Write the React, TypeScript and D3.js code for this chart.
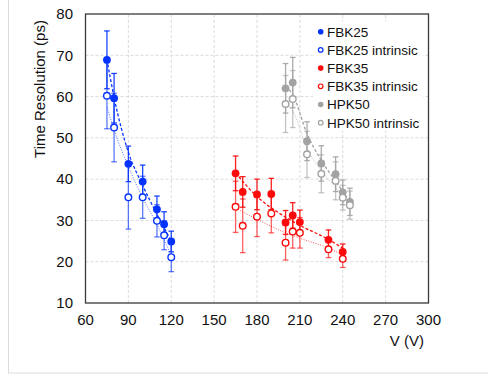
import React from "react";
import * as d3 from "d3";

// ---- data ----
const fbk25V = [75, 80, 90, 100, 110, 115, 120];
const fbk25 = [68.9, 59.6, 43.7, 39.4, 32.7, 29.1, 24.9];
const fbk25Err = [7.0, 6.0, 4.3, 4.0, 3.2, 3.0, 2.5];
const fbk25Intr = [60.2, 52.5, 35.6, 35.6, 29.9, 26.4, 21.1];
const fbk25IntrErr = [8.0, 8.3, 7.7, 5.1, 3.9, 3.5, 3.5];

const fbk35V = [165, 170, 180, 190, 200, 205, 210, 230, 240];
const fbk35 = [41.4, 36.9, 36.3, 36.4, 29.5, 31.2, 29.6, 25.3, 22.4];
const fbk35Err = [4.2, 3.7, 3.7, 3.8, 2.9, 3.1, 2.9, 2.4, 1.9];
const fbk35Intr = [33.3, 28.7, 30.9, 31.7, 24.6, 27.3, 27.0, 23.0, 20.7];
const fbk35IntrErr = [6.2, 6.5, 4.8, 4.7, 4.2, 4.0, 3.7, 2.0, 2.1];

const hpk50V = [200, 205, 215, 225, 235, 240, 245];
const hpk50 = [62.0, 63.4, 49.2, 43.8, 41.2, 36.8, 34.5];
const hpk50Err = [6.0, 6.1, 4.7, 4.3, 4.2, 3.0, 3.3];
const hpk50Intr = [58.2, 59.4, 46.0, 41.3, 39.6, 35.5, 33.7];
const hpk50IntrErr = [6.9, 6.9, 5.6, 4.6, 4.6, 3.0, 3.4];

// trend lines (as drawn in the picture)
const fbk25TrendV = [75, 80, 90, 100, 110, 120];
const fbk25Trend = [69, 59.8, 46.5, 38.5, 31.5, 25];
const fbk25IntrTrend = [57.5, 52, 43, 35.5, 29, 21.5];
const fbk35TrendV = [165, 180, 200, 210, 230, 240];
const fbk35Trend = [41.5, 35.8, 30.8, 28.8, 25.4, 23.3];
const fbk35IntrTrend = [33, 30.3, 27, 25.7, 23.3, 21.6];
const hpk50TrendV = [200, 205, 215, 225, 235, 245];
const hpk50Trend = [62.5, 60.5, 51, 44.5, 39.5, 34.5];
const hpk50IntrTrend = [58.5, 56.5, 47.5, 42, 38, 33.8];

const xTicks = [60, 90, 120, 150, 180, 210, 240, 270, 300];
const yTicks = [10, 20, 30, 40, 50, 60, 70, 80];

const legendLabels = ["FBK25", "FBK25 intrinsic", "FBK35", "FBK35 intrinsic", "HPK50", "HPK50 intrinsic"];

const BLUE = "#0433ff";
const RED = "#fa0a0a";
const GRAY = "#a3a3a3";

const FONT = "'Liberation Sans', Arial, Helvetica, sans-serif";

export default function App() {
  const W = 488, H = 377;
  const x = d3.scaleLinear().domain([60, 300]).range([85.5, 428.5]);
  const y = d3.scaleLinear().domain([10, 80]).range([303, 14]);

  const series = [
    { v: fbk25V, val: fbk25, err: fbk25Err, color: BLUE, open: false },
    { v: fbk25V, val: fbk25Intr, err: fbk25IntrErr, color: BLUE, open: true },
    { v: fbk35V, val: fbk35, err: fbk35Err, color: RED, open: false },
    { v: fbk35V, val: fbk35Intr, err: fbk35IntrErr, color: RED, open: true },
    { v: hpk50V, val: hpk50, err: hpk50Err, color: GRAY, open: false },
    { v: hpk50V, val: hpk50Intr, err: hpk50IntrErr, color: GRAY, open: true },
  ];
  const trends = [
    { v: fbk25TrendV, val: fbk25Trend, color: BLUE, open: false },
    { v: fbk25TrendV, val: fbk25IntrTrend, color: BLUE, open: true },
    { v: fbk35TrendV, val: fbk35Trend, color: RED, open: false },
    { v: fbk35TrendV, val: fbk35IntrTrend, color: RED, open: true },
    { v: hpk50TrendV, val: hpk50Trend, color: GRAY, open: false },
    { v: hpk50TrendV, val: hpk50IntrTrend, color: GRAY, open: true },
  ];
  const line = d3
    .line<[number, number]>()
    .x((d) => x(d[0]))
    .y((d) => y(d[1]))
    .curve(d3.curveMonotoneX);

  const legendColors = [BLUE, BLUE, RED, RED, GRAY, GRAY];

  return (
    <svg width={W} height={H} style={{ position: "absolute", left: 0, top: 0, fontFamily: FONT }}>
      <rect x={0} y={0} width={W} height={H} fill="#fff" />
      <rect x={8.5} y={-5} width={520} height={378} fill="#fff" stroke="#dcdcdc" strokeWidth={1} />
      {/* grid */}
      {xTicks.slice(1, -1).map((t) => (
        <line key={"gx" + t} x1={x(t)} x2={x(t)} y1={y(10)} y2={y(80)} stroke="#d2d2d2" strokeWidth={0.8} strokeDasharray="3,2" />
      ))}
      {yTicks.slice(1, -1).map((t) => (
        <line key={"gy" + t} x1={x(60)} x2={x(300)} y1={y(t)} y2={y(t)} stroke="#d2d2d2" strokeWidth={0.8} strokeDasharray="3,2" />
      ))}
      {/* legend background */}
      <rect x={313} y={21} width={110} height={110} fill="#fff" />
      {/* trend lines */}
      {trends.map((s, i) => (
        <path
          key={"t" + i}
          d={line(s.v.map((v, j) => [v, s.val[j]] as [number, number])) || ""}
          fill="none"
          stroke={s.color}
          strokeWidth={s.open ? 1 : 1.3}
          strokeOpacity={s.open ? 0.7 : 1}
          strokeDasharray={s.open ? "1,1.5" : "3,2"}
        />
      ))}
      {/* error bars */}
      {series.map((s, i) => (
        <g key={"e" + i} stroke={s.color} strokeWidth={1.3} strokeOpacity={s.open ? 0.65 : 0.9}>
          {s.v.map((v, j) => {
            const cx = x(v);
            const y1 = y(s.val[j] + s.err[j]);
            const y2 = y(s.val[j] - s.err[j]);
            return (
              <g key={j}>
                <line x1={cx} x2={cx} y1={y1} y2={y2} />
                <line x1={cx - 2.8} x2={cx + 2.8} y1={y1} y2={y1} />
                <line x1={cx - 2.8} x2={cx + 2.8} y1={y2} y2={y2} />
              </g>
            );
          })}
        </g>
      ))}
      {/* markers */}
      {series.map((s, i) => (
        <g key={"m" + i}>
          {s.v.map((v, j) =>
            s.open ? (
              <circle key={j} cx={x(v)} cy={y(s.val[j])} r={3.3} fill="#fff" stroke={s.color} strokeWidth={1.4} />
            ) : (
              <circle key={j} cx={x(v)} cy={y(s.val[j])} r={3.9} fill={s.color} />
            )
          )}
        </g>
      ))}
      {/* frame */}
      <rect x={x(60)} y={y(80)} width={x(300) - x(60)} height={y(10) - y(80)} fill="none" stroke="#3a3a3a" strokeWidth={1.3} />
      {/* y ticks */}
      {yTicks.map((t) => (
        <text key={"yl" + t} x={73} y={y(t)} dy="0.35em" textAnchor="end" fontSize={15} fill="#111">
          {t}
        </text>
      ))}
      {/* x ticks */}
      {xTicks.map((t) => (
        <text key={"xl" + t} x={x(t)} y={325} textAnchor="middle" fontSize={15} fill="#111">
          {t}
        </text>
      ))}
      <text x={424} y={345.5} textAnchor="end" fontSize={15} fill="#111">
        V (V)
      </text>
      <text transform="translate(45,89) rotate(-90)" textAnchor="middle" fontSize={15} fill="#111">
        Time Resolution (ps)
      </text>
      {/* legend */}
      {legendLabels.map((lab, i) => {
        const ly = 31.7 + i * 18.2;
        const open = i % 2 === 1;
        return (
          <g key={"lg" + i}>
            {open ? (
              <circle cx={320.7} cy={ly} r={2.3} fill="#fff" stroke={legendColors[i]} strokeWidth={1.2} />
            ) : (
              <circle cx={320.7} cy={ly} r={2.8} fill={legendColors[i]} />
            )}
            <text x={327} y={ly} dy="0.36em" fontSize={13.5} fill="#111">
              {lab}
            </text>
          </g>
        );
      })}
    </svg>
  );
}
